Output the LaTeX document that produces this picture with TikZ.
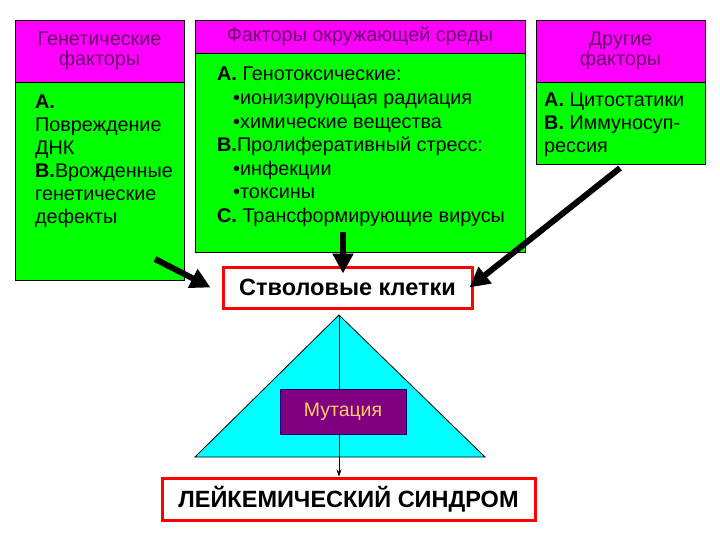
\documentclass[tikz,border=0pt]{standalone}
\usepackage{fontspec}
\setmainfont{Liberation Sans}
\usetikzlibrary{arrows.meta, positioning, calc}
\definecolor{boxgreen}{RGB}{0,255,0}
\definecolor{hdrmag}{RGB}{255,0,255}
\definecolor{hdrtext}{RGB}{102,0,102}
\definecolor{stemcyan}{RGB}{0,255,255}
\definecolor{mutpurple}{RGB}{128,0,128}
\definecolor{mutyellow}{RGB}{255,204,102}
\definecolor{mutframe}{RGB}{0,0,128}
\definecolor{framered}{RGB}{255,0,0}

\begin{document}
\begin{tikzpicture}[x=1pt, y=-1pt,
  box/.style={draw=black, line width=0.8pt, inner sep=0pt},
  head/.style={box, fill=hdrmag, text=hdrtext, align=center, font=\fontsize{19.8}{20}\selectfont},
  body/.style={box, fill=boxgreen},
  txt/.style={anchor=north west, inner sep=0pt, align=left, font=\fontsize{19.8}{23}\selectfont},
  redbox/.style={draw=framered, line width=3pt, fill=white, inner sep=0pt},
  bigarrow/.style={line width=6pt, -{Triangle[length=20pt, width=20pt]}},
  thinarrow/.style={line width=0.7pt, -{Stealth[length=7pt, width=5pt]}}]
  \fill[white] (0,0) rectangle (720,540);

  % factor boxes
  \node[head, minimum width=169pt, minimum height=62pt] (genhead) at (99.5,51) {Генетические\\факторы};
  \node[body, minimum width=169pt, minimum height=198pt] (genbody) at (99.5,181) {};
  \node[txt] (gentxt) at (35,95) {\textbf{А.}\\Повреждение\\ДНК\\\textbf{В.}Врожденные\\генетические\\дефекты};

  \node[head, minimum width=330pt, minimum height=33pt] (envhead) at (360,36.5) {Факторы окружающей среды};
  \node[body, minimum width=330pt, minimum height=199pt] (envbody) at (360,152.5) {};
  \node[txt, font=\fontsize{19.8}{23.6}\selectfont] (envtxt) at (217,67) {\textbf{А.} Генотоксические:\\
    \hspace*{16pt}•ионизирующая радиация\\
    \hspace*{16pt}•химические вещества\\
    \textbf{В.}Пролиферативный стресс:\\
    \hspace*{16pt}•инфекции\\
    \hspace*{16pt}•токсины\\
    \textbf{С.} Трансформирующие вирусы};

  \node[head, minimum width=169pt, minimum height=62pt] (othhead) at (620.5,51) {Другие\\факторы};
  \node[body, minimum width=169pt, minimum height=82pt] (othbody) at (620.5,123) {};
  \node[txt] (othtxt) at (544,93) {\textbf{А.} Цитостатики\\\textbf{В.} Иммуносуп-\\рессия};

  % stem cells
  \node[redbox, minimum width=249pt, minimum height=41pt, font=\bfseries\fontsize{23.5}{26}\selectfont] (stem) at (347.5,287.5) {Стволовые клетки};

  \coordinate (gentail) at (155,259);
  \coordinate (envtail) at (343,232);
  \coordinate (othtail) at (620,168);
  \coordinate (gentip) at ([xshift=-11pt]stem.west);
  \coordinate (envtip) at ([yshift=-8pt]envtail |- stem.north);
  \coordinate (othtip) at ([xshift=-4pt]stem.east);
  \foreach \a/\b in {gentail/gentip, envtail/envtip, othtail/othtip}
    \draw[bigarrow] (\a) -- (\b);

  % triangle
  \coordinate (apex) at (339,315);
  \coordinate (baseL) at (195,457);
  \coordinate (baseR) at (485,457);
  \filldraw[fill=stemcyan, draw=black, line width=0.8pt] (apex) -- (baseR) -- (baseL) -- cycle;

  \node[redbox, minimum width=373pt, minimum height=42pt, font=\bfseries\fontsize{23.5}{26}\selectfont] (leuk) at (348.5,499) {ЛЕЙКЕМИЧЕСКИЙ СИНДРОМ};
  \draw[thinarrow] (apex) -- (apex |- leuk.north);

  \node[draw=mutframe, fill=mutpurple, text=mutyellow, line width=0.8pt, minimum width=126pt, minimum height=45pt, font=\fontsize{19.5}{22}\selectfont] (mut) at (343,411.5) {Мутация};
\end{tikzpicture}
\end{document}
